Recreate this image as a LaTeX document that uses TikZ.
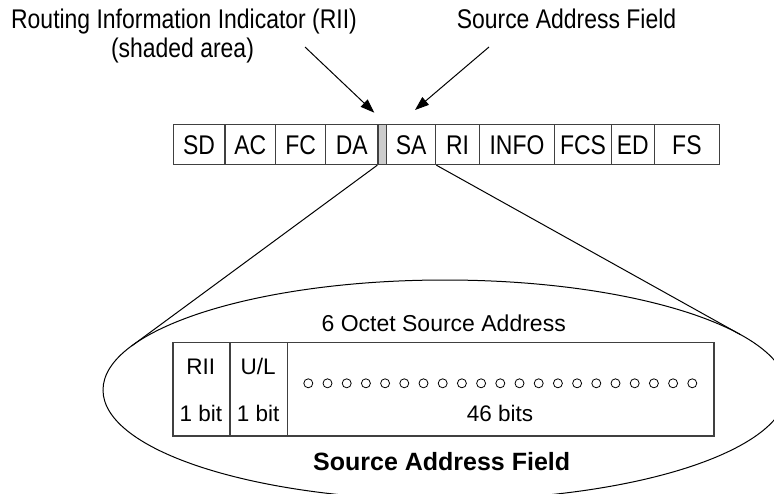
\documentclass[tikz,border=0pt]{standalone}
\usepackage{fontspec}
\setmainfont{Liberation Sans}
\newfontfamily\condfont{Liberation Sans}[FakeStretch=0.85]
\usetikzlibrary{arrows.meta}
\begin{document}
\begin{tikzpicture}[x=1pt,y=-1pt,
  cell/.style={draw=black!75, line width=1.2pt, minimum height=40.5pt, inner sep=0pt,
    anchor=north west, text height=19.3pt, text depth=0pt, font=\condfont\fontsize{27}{31}\selectfont},
  col/.style={draw=black!75, line width=1.2pt, minimum height=93.6pt, inner sep=0pt, anchor=north west},
  toplbl/.style={anchor=base, inner sep=0pt, font=\condfont\fontsize{27}{31}\selectfont},
  lbl/.style={anchor=base, inner sep=0pt, font=\fontsize{23}{27}\selectfont},
  inlbl/.style={anchor=base, inner sep=0pt, font=\fontsize{22.5}{26}\selectfont},
  ptr/.style={line width=1pt, -{Triangle[length=14pt,width=10pt]}},
  link/.style={line width=1pt}]
\useasboundingbox (0,0) rectangle (774,493);
\fill[white] (0,0) rectangle (774,493);
% top labels
\node[toplbl] (rii1) at (184,28) {Routing Information Indicator (RII)};
\node[toplbl] (rii2) at (182.5,57) {(shaded area)};
\node[toplbl] (saftop) at (566.5,28) {Source Address Field};
% frame bar
\node[cell, minimum width=51.6pt] (sd) at (172.7,123.5) {SD};
\node[cell, minimum width=50.6pt] (ac) at (224.3,123.5) {AC};
\node[cell, minimum width=50.1pt] (fc) at (274.9,123.5) {FC};
\node[cell, minimum width=52.3pt] (da) at (325,123.5) {DA};
\node[cell, minimum width=8.7pt, fill=gray!40] (sh) at (377.3,123.5) {};
\node[cell, minimum width=49.2pt] (sa) at (386,123.5) {SA};
\node[cell, minimum width=43.6pt] (ri) at (435.2,123.5) {RI};
\node[cell, minimum width=75.2pt] (info) at (478.8,123.5) {INFO};
\node[cell, minimum width=56.7pt] (fcs) at (554,123.5) {FCS};
\node[cell, minimum width=42.9pt] (ed) at (610.7,123.5) {ED};
\node[cell, minimum width=65.4pt] (fs) at (653.6,123.5) {FS};
% arrows
\coordinate (a1s) at (305,47);
\coordinate (a1e) at (374.3,112.7);
\coordinate (a2s) at (489,47);
\coordinate (a2e) at (415,110);
\draw[ptr] (a1s) -- (a1e);
\draw[ptr] (a2s) -- (a2e);
% ellipse
\coordinate (ec) at (445,390);
\begin{scope}
\clip (0,0) rectangle (774,493);
\draw[link] (ec) ellipse [x radius=342pt, y radius=110pt];
\end{scope}
\path (ec) ++(203.6:342 and 110) coordinate (tl);
\path (ec) ++(329.8:342 and 110) coordinate (tr);
\draw[link] (sh.south west) -- (tl);
\draw[link] (sa.south east) -- (tr);
% inner box
\node[lbl] (octet) at (443.7,331) {6 Octet Source Address};
\node[col, minimum width=57pt] (riic) at (172.3,341.7) {};
\node[col, minimum width=57.7pt] (ulc) at (229.3,341.7) {};
\node[col, minimum width=426.3pt] (bitsc) at (287,341.7) {};
\node[inlbl] (riit) at (200.8,374) {RII};
\node[inlbl] (ult) at (258.2,374) {U/L};
\node[inlbl] (b1) at (200.8,421.7) {1 bit};
\node[inlbl] (b2) at (258.2,421.7) {1 bit};
\node[inlbl] (b46) at (500,421.7) {46 bits};
\foreach \i in {0,...,20} \draw[line width=0.8pt] ({308.3+19.2*\i},383.3) circle[radius=4.5pt];
\node[anchor=base, inner sep=0pt, font=\fontsize{25}{29}\selectfont\bfseries] (saf) at (441.7,470) {Source Address Field};
\end{tikzpicture}
\end{document}
